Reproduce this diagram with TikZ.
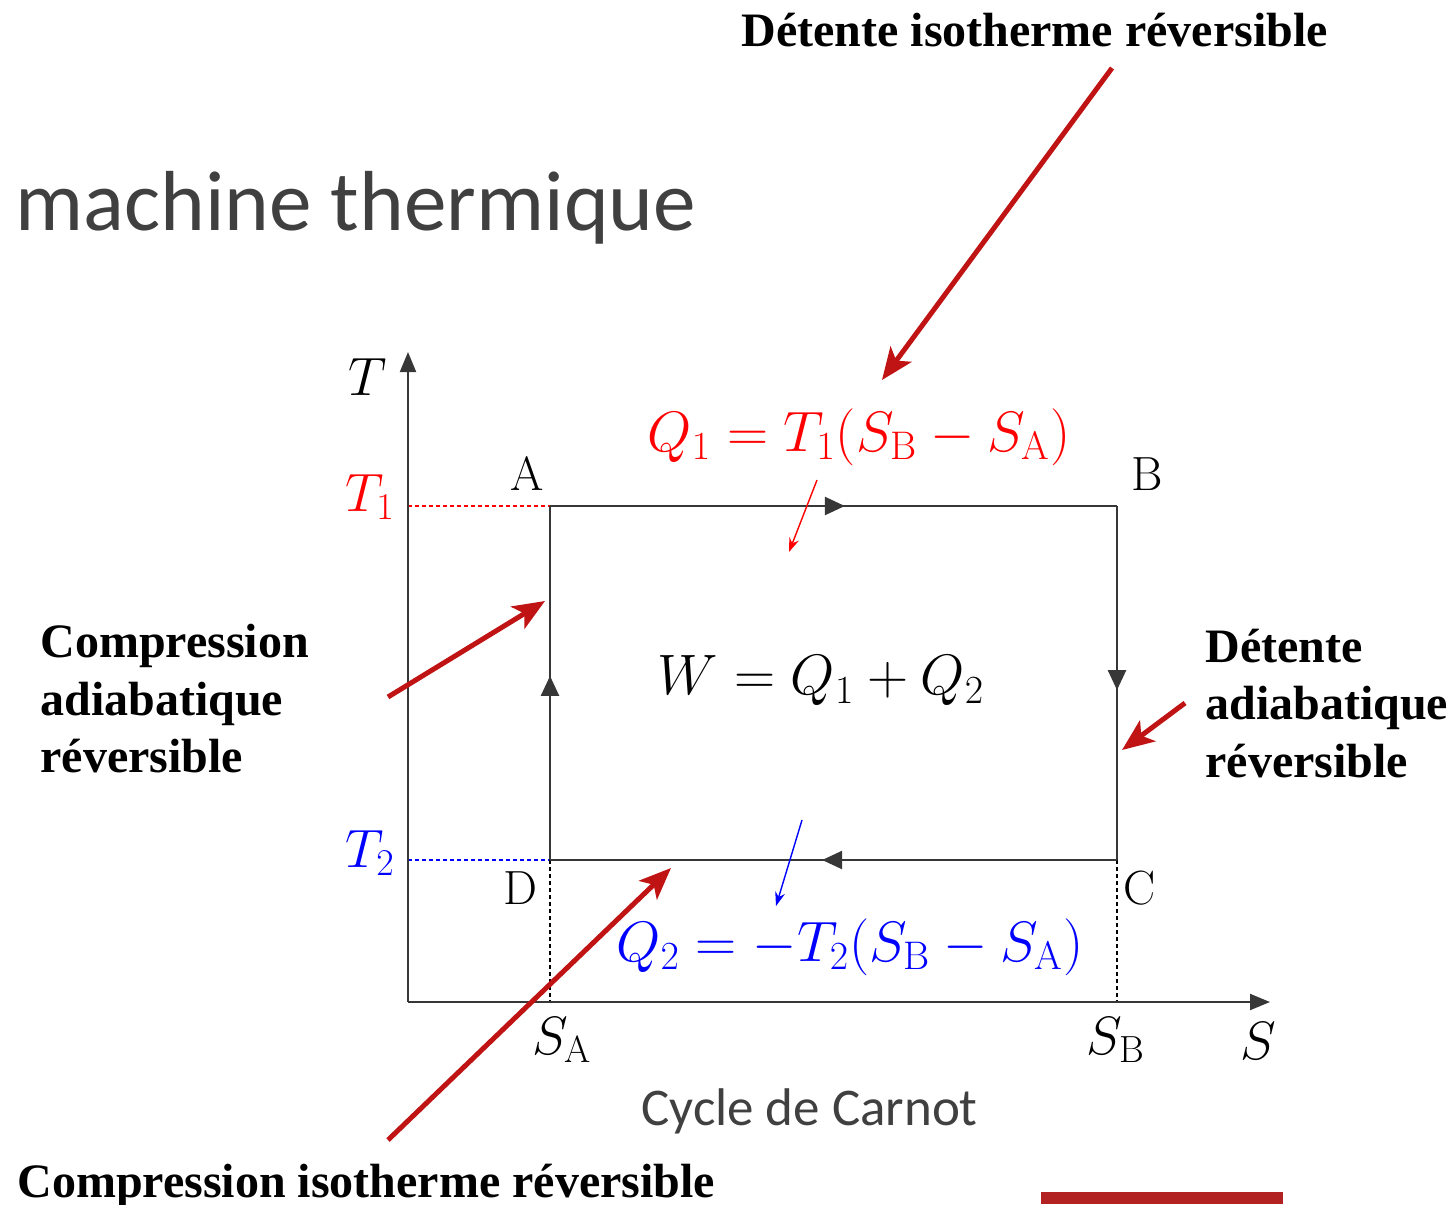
\RequirePackage{fix-cm}
\documentclass[tikz,border=0pt]{standalone}
\usepackage{fontspec}
\newfontfamily\tnrfont{Liberation Serif}
\newfontfamily\calfont{Carlito}
\usetikzlibrary{arrows.meta,decorations.markings}
\definecolor{arrred}{RGB}{192,20,20}
\definecolor{titlegray}{RGB}{64,64,64}
\definecolor{barred}{RGB}{178,34,34}
\definecolor{edgegray}{RGB}{55,55,55}
\begin{document}
\begin{tikzpicture}[x=0.5pt,y=-0.5pt,
  bigarrow/.style={draw=arrred,line width=2.5pt,-{Stealth[length=16pt,width=13pt,inset=4pt]}},
  midarrow/.style={postaction={decorate},decoration={markings,mark=at position #1 with {\arrow{Triangle[length=10pt,width=9pt]}}}},
  edge/.style={draw=edgegray,line width=1.2pt},
  axis/.style={draw=edgegray,line width=1pt,-{Triangle[length=10pt,width=8pt]}},
  proj/.style={line width=0.6pt,dash pattern=on 2pt off 1.5pt},
  mlab/.style={inner sep=0pt,font=\fontsize{27}{32}\selectfont},
  flab/.style={inner sep=0pt,font=\fontsize{28.5}{34}\selectfont},
  plab/.style={inner sep=0pt,font=\fontsize{24}{28}\selectfont},
  blab/.style={inner sep=0pt,anchor=base west,font=\tnrfont\bfseries\fontsize{24}{28}\selectfont},
  smallarrow/.style={line width=0.7pt,-{Stealth[length=7pt,width=5pt]}}
]
\useasboundingbox (0,0) rectangle (1455,1204);

% title
\node[inner sep=0pt,anchor=base west,text=titlegray,font=\calfont\fontsize{42.6}{50}\selectfont] (title) at (15,230) {machine thermique};
\node[inner sep=0pt,anchor=base west,text=titlegray,font=\calfont\fontsize{26.5}{32}\selectfont] (caption) at (641,1125) {Cycle de Carnot};

% coordinates
\coordinate (O) at (408,1002);
\coordinate (Ttop) at (408,352);
\coordinate (Send) at (1270,1002);
\coordinate (A) at (550,506);
\coordinate (B) at (1117,506);
\coordinate (C) at (1117,860);
\coordinate (D) at (550,860);
\coordinate (T1) at (408,506);
\coordinate (T2) at (408,860);
\coordinate (SA) at (550,1002);
\coordinate (SB) at (1117,1002);

% projections
\draw[proj,red] (T1) -- (A);
\draw[proj,blue] (T2) -- (D);
\draw[proj,black] (D) -- (SA);
\draw[proj,black] (C) -- (SB);

% axes
\draw[axis] (O) -- (Ttop);
\draw[axis] (O) -- (Send);

% cycle
\draw[edge,midarrow=0.52] (A) -- (B);
\draw[edge,midarrow=0.52] (B) -- (C);
\draw[edge,midarrow=0.52] (C) -- (D);
\draw[edge,midarrow=0.52] (D) -- (A);

% labels
\node[mlab] (lT) at (368,377) {$T$};
\node[mlab] (lS) at (1258,1041) {$S$};
\node[mlab,text=red] (lT1) at (370,497) {$T_1$};
\node[mlab,text=blue] (lT2) at (370,853) {$T_2$};
\node[plab] (lA) at (527,474) {A};
\node[plab] (lB) at (1147,474) {B};
\node[plab] (lC) at (1140,888) {C};
\node[plab] (lD) at (520,888) {D};
\node[mlab] (lSA) at (562,1040) {$S_{\mathrm{A}}$};
\node[mlab] (lSB) at (1116,1040) {$S_{\mathrm{B}}$};
\node[flab,text=red] (Q1) at (859,437) {$Q_1 = T_1(S_{\mathrm{B}}-S_{\mathrm{A}})$};
\node[flab,text=blue] (Q2) at (850,947) {$Q_2 = -T_2(S_{\mathrm{B}}-S_{\mathrm{A}})$};
\node[flab] (W) at (821,681) {$W = Q_1 + Q_2$};

% small heat arrows
\coordinate (q1s) at (817,480);
\coordinate (q1e) at (789,552);
\coordinate (q2s) at (802,820);
\coordinate (q2e) at (776,906);
\draw[smallarrow,red] (q1s) -- (q1e);
\draw[smallarrow,blue] (q2s) -- (q2e);

% bold annotations
\node[blab] (detiso) at (741,47) {Détente isotherme réversible};
\node[blab] (cad1) at (40,657) {Compression};
\node[blab] (cad2) at (40,715) {adiabatique};
\node[blab] (cad3) at (40,772) {réversible};
\node[blab] (dad1) at (1205,662) {Détente};
\node[blab] (dad2) at (1205,719) {adiabatique};
\node[blab] (dad3) at (1205,777) {réversible};
\node[blab] (ciso) at (17,1197) {Compression isotherme réversible};

% big red arrows
\coordinate (a1s) at (1112,68);
\coordinate (a1e) at (882,380);
\coordinate (a2s) at (388,697);
\coordinate (a2e) at (545,601);
\coordinate (a3s) at (1185,703);
\coordinate (a3e) at (1122,750);
\coordinate (a4s) at (388,1140);
\coordinate (a4e) at (671,868);
\draw[bigarrow] (a1s) -- (a1e);
\draw[bigarrow] (a2s) -- (a2e);
\draw[bigarrow] (a3s) -- (a3e);
\draw[bigarrow] (a4s) -- (a4e);

% bottom bar
\fill[barred] (1041,1192) rectangle (1283,1204);
\end{tikzpicture}
\end{document}
